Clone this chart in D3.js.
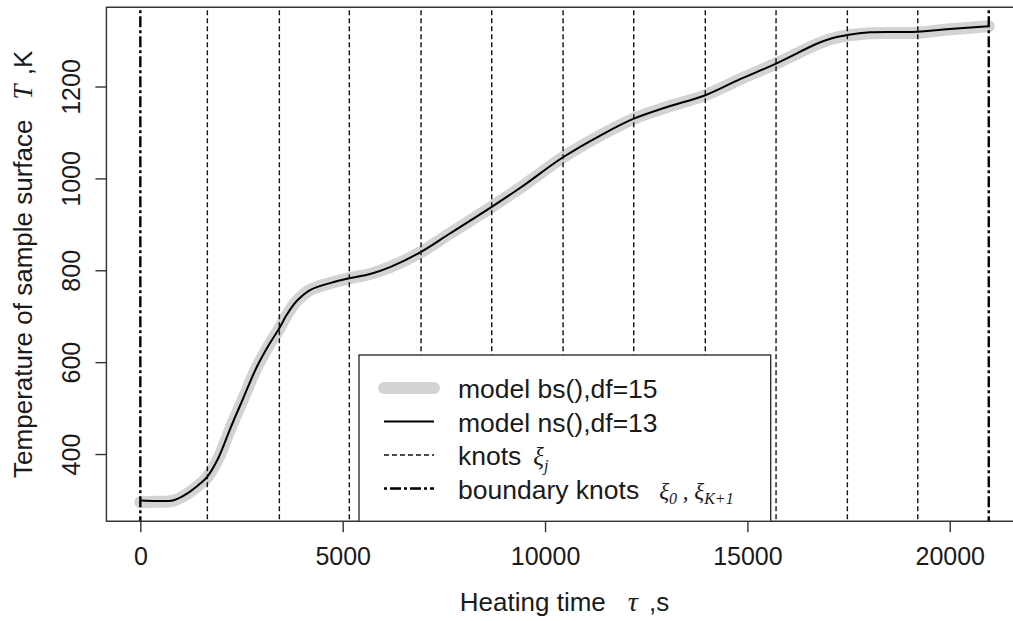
<!DOCTYPE html>
<html>
<head>
<meta charset="utf-8">
<script src="https://cdn.jsdelivr.net/npm/d3@7"></script>
<style>
  html, body { margin: 0; padding: 0; background: #ffffff; }
  svg { display: block; }
  text { font-family: "Liberation Sans", Arial, sans-serif; fill: #1a1a1a; }
  .math { font-family: "Liberation Serif", "Times New Roman", serif; font-style: italic; }
</style>
</head>
<body>
<svg id="chart" width="1013" height="621"></svg>
<script>
// Heating time, s
const timeSec = [0, 400, 800, 1100, 1400, 1656, 1930, 2220, 2550, 2880, 3200, 3435, 3617, 3864,
  4193, 4687, 5181, 5680, 6200, 6936, 7650, 8683, 9380, 10445, 11420, 12192, 13000, 13960,
  14820, 15708, 16713, 17050, 17470, 18030, 19210, 19840, 20964];

// Surface temperature, K — natural spline fit ns(), df = 13
const nsFit = [299, 298, 299, 311, 330, 351, 392, 455, 523, 590, 641, 674, 703, 733,
  757, 772, 783, 792, 808, 840, 880, 938, 979, 1046, 1096, 1130, 1155, 1181,
  1216, 1250, 1293, 1304, 1312, 1318, 1319, 1324, 1331];

// Surface temperature, K — B-spline fit bs(), df = 15
const bsFit = [295, 296, 298, 310, 329, 350, 391, 454, 522, 589, 640, 673, 702, 733,
  757, 772, 783, 792, 808, 840, 880, 938, 979, 1046, 1096, 1130, 1155, 1181,
  1216, 1250, 1292, 1303, 1311, 1316, 1317, 1323, 1331];

// Spline knots, s
const innerKnots = [1656, 3435, 5164, 6936, 8683, 10445, 12192, 13960, 15708, 17470, 19210];
const boundaryKnots = [0, 20964];

const xTicks = [0, 5000, 10000, 15000, 20000];
const yTicks = [400, 600, 800, 1000, 1200];

const legendLabels = ["model bs(),df=15", "model ns(),df=13", "knots", "boundary knots"];

const svg = d3.select("#chart");

// plot region
const plot = { left: 106.4, right: 1022.7, top: 7.3, bottom: 521.3 };

// axis ranges extended by 4% on each side of the data
const pad = (lo, hi) => [lo - 0.04 * (hi - lo), hi + 0.04 * (hi - lo)];
const xExt = d3.extent(boundaryKnots.concat(timeSec));
const yExt = d3.extent(nsFit.concat(bsFit));

const x = d3.scaleLinear().domain(pad(xExt[0], xExt[1])).range([plot.left, plot.right]);
const y = d3.scaleLinear().domain(pad(yExt[0], yExt[1])).range([plot.bottom, plot.top]);

const axisColor = "#333";
const bsColor = "#d3d3d3";

// fitted curves
const line = (vals) => d3.line()
  .x((d, i) => x(timeSec[i]))
  .y((d) => y(d))
  .curve(d3.curveCatmullRom.alpha(0.5))(vals);

svg.append("path")
  .attr("d", line(bsFit))
  .attr("fill", "none")
  .attr("stroke", bsColor)
  .attr("stroke-width", 12)
  .attr("stroke-linecap", "round")
  .attr("stroke-linejoin", "round");

svg.append("path")
  .attr("d", line(nsFit))
  .attr("fill", "none")
  .attr("stroke", "#000")
  .attr("stroke-width", 2);

// knot lines
svg.append("g").selectAll("line")
  .data(innerKnots)
  .join("line")
  .attr("x1", (d) => x(d)).attr("x2", (d) => x(d))
  .attr("y1", plot.top + 3).attr("y2", plot.bottom)
  .attr("stroke", "#111")
  .attr("stroke-width", 1.4)
  .attr("stroke-dasharray", "5,3");

svg.append("g").selectAll("line")
  .data(boundaryKnots)
  .join("line")
  .attr("x1", (d) => x(d)).attr("x2", (d) => x(d))
  .attr("y1", plot.top + 3).attr("y2", plot.bottom)
  .attr("stroke", "#000")
  .attr("stroke-width", 2.4)
  .attr("stroke-dasharray", "3,3,11,3");

// frame (left, top, bottom)
svg.append("path")
  .attr("d", `M${plot.right},${plot.top}H${plot.left}V${plot.bottom}H${plot.right}`)
  .attr("fill", "none")
  .attr("stroke", axisColor)
  .attr("stroke-width", 1.4);

// x axis
const gx = svg.append("g")
  .attr("transform", `translate(0,${plot.bottom})`)
  .call(d3.axisBottom(x).tickValues(xTicks).tickSize(11).tickSizeOuter(0).tickPadding(15)
    .tickFormat(d3.format("d")));
gx.select(".domain").remove();
gx.selectAll(".tick line").attr("stroke", axisColor).attr("stroke-width", 1.4);
gx.selectAll(".tick text")
  .attr("font-size", 25)
  .attr("font-family", "Liberation Sans, Arial, sans-serif")
  .attr("fill", "#1a1a1a");

// y axis, labels parallel to the axis
const gy = svg.append("g")
  .attr("transform", `translate(${plot.left},0)`)
  .call(d3.axisLeft(y).tickValues(yTicks).tickSize(11).tickSizeOuter(0)
    .tickFormat(d3.format("d")));
gy.select(".domain").remove();
gy.selectAll(".tick line").attr("stroke", axisColor).attr("stroke-width", 1.4);
gy.selectAll(".tick text")
  .attr("x", null).attr("dy", null)
  .attr("text-anchor", "middle")
  .attr("transform", "translate(-26,0) rotate(-90)")
  .attr("font-size", 25)
  .attr("font-family", "Liberation Sans, Arial, sans-serif")
  .attr("fill", "#1a1a1a");

// axis titles
const xTitle = svg.append("text")
  .attr("x", (plot.left + plot.right) / 2)
  .attr("y", 611)
  .attr("text-anchor", "middle")
  .attr("font-size", 26);
xTitle.append("tspan").text("Heating time");
xTitle.append("tspan").attr("class", "math").attr("dx", 22).attr("font-size", 28).text("τ");
xTitle.append("tspan").attr("dx", 4).text(" ,s");

const yTitle = svg.append("text")
  .attr("transform", `translate(32,${(plot.top + plot.bottom) / 2}) rotate(-90)`)
  .attr("text-anchor", "middle")
  .attr("font-size", 26);
yTitle.append("tspan").text("Temperature of sample surface");
yTitle.append("tspan").attr("class", "math").attr("dx", 20).attr("font-size", 27).text("T");
yTitle.append("tspan").attr("dx", 2).text(" ,K");

// legend
const lg = { x0: 359, x1: 770.7, y0: 355, y1: plot.bottom };
svg.append("rect")
  .attr("x", lg.x0).attr("y", lg.y0)
  .attr("width", lg.x1 - lg.x0).attr("height", lg.y1 - lg.y0)
  .attr("fill", "#fff")
  .attr("stroke", axisColor)
  .attr("stroke-width", 1.4);

const rowY = (i) => 388 + i * 33.5;
const keyX0 = 384, keyX1 = 434, textX = 458;

const keyStyles = [
  { stroke: bsColor, width: 12, dash: null, cap: "round" },
  { stroke: "#000", width: 2, dash: null, cap: "butt" },
  { stroke: "#111", width: 1.4, dash: "5,3", cap: "butt" },
  { stroke: "#000", width: 2.4, dash: "3,3,11,3", cap: "butt" }
];

const rows = svg.append("g").selectAll("g")
  .data(legendLabels)
  .join("g")
  .attr("transform", (d, i) => `translate(0,${rowY(i)})`);

rows.append("line")
  .attr("x1", keyX0).attr("x2", keyX1)
  .attr("stroke", (d, i) => keyStyles[i].stroke)
  .attr("stroke-width", (d, i) => keyStyles[i].width)
  .attr("stroke-dasharray", (d, i) => keyStyles[i].dash)
  .attr("stroke-linecap", (d, i) => keyStyles[i].cap);

const labels = rows.append("text")
  .attr("x", textX)
  .attr("y", 10)
  .attr("font-size", 26.5);
labels.append("tspan").text((d) => d);

// symbols after the knot labels
const knotLabel = labels.filter((d, i) => i === 2);
knotLabel.append("tspan").attr("class", "math").attr("dx", 12).attr("font-size", 25).text("ξ");
knotLabel.append("tspan").attr("class", "math").attr("dy", 6).attr("font-size", 16).text("j");

const bndLabel = labels.filter((d, i) => i === 3);
bndLabel.append("tspan").attr("class", "math").attr("dx", 20).attr("font-size", 23).text("ξ");
bndLabel.append("tspan").attr("class", "math").attr("dy", 5).attr("font-size", 16).text("0");
bndLabel.append("tspan").attr("class", "math").attr("dy", -5).attr("font-size", 23).text(" , ");
bndLabel.append("tspan").attr("class", "math").attr("font-size", 23).text("ξ");
bndLabel.append("tspan").attr("class", "math").attr("dy", 5).attr("font-size", 16).text("K+1");
</script>
</body>
</html>
